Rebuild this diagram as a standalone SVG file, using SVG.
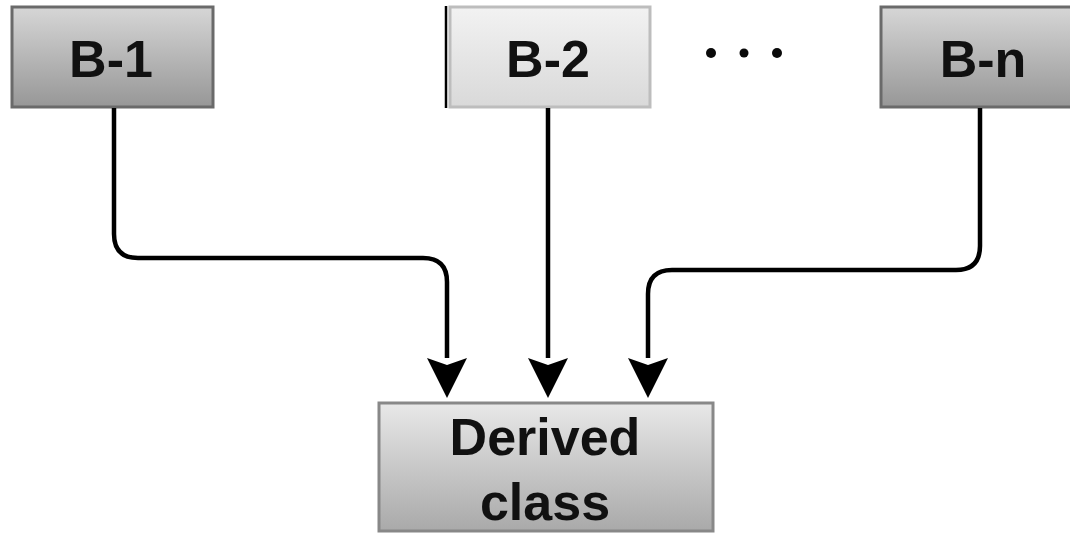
<svg xmlns="http://www.w3.org/2000/svg" width="1070" height="533" viewBox="0 0 1070 533">
  <defs>
    <linearGradient id="gDark" x1="0" y1="0" x2="0" y2="1">
      <stop offset="0" stop-color="#d6d6d6"/>
      <stop offset="1" stop-color="#979797"/>
    </linearGradient>
    <linearGradient id="gLight" x1="0" y1="0" x2="0" y2="1">
      <stop offset="0" stop-color="#f2f2f2"/>
      <stop offset="1" stop-color="#d9d9d9"/>
    </linearGradient>
    <linearGradient id="gMid" x1="0" y1="0" x2="0" y2="1">
      <stop offset="0" stop-color="#e8e8e8"/>
      <stop offset="1" stop-color="#a9a9a9"/>
    </linearGradient>
    <marker id="arrow" markerUnits="userSpaceOnUse" markerWidth="50" markerHeight="50" viewBox="0 0 50 50" refX="10" refY="25" orient="auto">
      <path d="M10,5 L50,25 L10,45 L17,25 Z" fill="#000"/>
    </marker>
    <style>
      .lbl { font-family: "Liberation Sans", Arial, sans-serif; font-size: 52px; font-weight: bold; fill: #111; text-anchor: middle; }
      .dark { fill: url(#gDark); stroke: #6a6a6a; stroke-width: 3; }
      .light { fill: url(#gLight); stroke: #bdbdbd; stroke-width: 3; }
      .mid { fill: url(#gMid); stroke: #888; stroke-width: 3; }
      .edge { fill: none; stroke: #000; stroke-width: 4.5; marker-end: url(#arrow); }
    </style>
  </defs>

  <rect width="1070" height="533" fill="#fff"/>

  <g id="b1">
    <rect class="dark" x="12" y="7" width="201" height="100"/>
    <text class="lbl" x="111" y="77">B-1</text>
  </g>

  <g id="b2">
    <rect class="light" x="450" y="7" width="200" height="100"/>
    <line x1="446" y1="6" x2="446" y2="108" stroke="#000" stroke-width="2.5"/>
    <text class="lbl" x="548" y="77">B-2</text>
  </g>

  <g id="ellipsis" fill="#0a0a0a">
    <circle cx="711" cy="53" r="5"/>
    <circle cx="744" cy="53" r="4.5"/>
    <circle cx="777" cy="53" r="5"/>
  </g>

  <g id="bn">
    <rect class="dark" x="881" y="7" width="200" height="100"/>
    <text class="lbl" x="983" y="77">B-n</text>
  </g>

  <g id="derived">
    <rect class="mid" x="379" y="403" width="334" height="128"/>
    <text class="lbl" x="545" y="455">Derived</text>
    <text class="lbl" x="545" y="520">class</text>
  </g>

  <g id="connectors">
    <path class="edge" d="M114,108 V234 Q114,258 138,258 H423 Q447,258 447,282 V358"/>
    <path class="edge" d="M548,108 V358"/>
    <path class="edge" d="M980,108 V246 Q980,270 956,270 H672 Q648,270 648,294 V358"/>
  </g>
</svg>
